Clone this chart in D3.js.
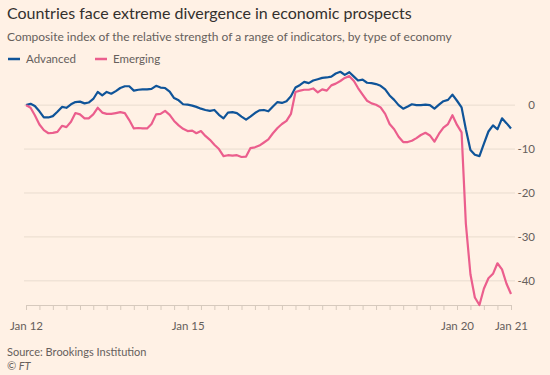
<!DOCTYPE html>
<html>
<head>
<meta charset="utf-8">
<script src="https://cdn.jsdelivr.net/npm/d3@7"></script>
<style>
  html, body { margin: 0; padding: 0; background: #fff1e5; }
  svg { display: block; font-family: Lato, "Noto Sans", sans-serif; }
</style>
</head>
<body>
<div id="chart"></div>
<script>
// monthly readings, Jan 2012 .. Jan 2021
const startMonth = new Date(2012, 0, 1);

const advanced = [
    0, 0.3, -0.2, -1.4, -2.8, -2.8, -2.5, -1.5, -0.4, -0.6, 0.2, 0.7,
    0.8, 0.4, 0.6, 1.4, 3.0, 2.2, 3.0, 2.6, 3.2, 3.9, 4.3, 4.3,
    3.3, 3.5, 3.6, 3.6, 3.7, 4.4, 4.0, 3.9, 3.1, 1.6, 1.1, 0.2,
    0.1, -0.1, -0.4, -0.8, -1.1, -1.3, -1.1, -2.2, -3.0, -1.7, -1.6, -1.8,
    -2.6, -3.3, -2.6, -1.8, -1.2, -1.1, -1.4, -0.3, 0.7, 0.5, 0.9, 2.0,
    4.0, 4.6, 5.3, 5.0, 5.6, 5.9, 6.2, 6.3, 6.5, 7.2, 7.6, 6.9,
    7.5, 6.5, 5.6, 5.8, 5.1, 5.0, 4.8, 4.4, 3.6, 2.2, 1.2, 0.0,
    -0.8, -0.3, 0.2, 0.0, 0.0, 0.1, 0.0, -0.8, 0.1, 0.9, 1.2, 2.4,
    1.0, -0.5, -5.5, -10.2, -11.3, -11.6, -8.8, -6.0, -4.6, -5.5, -3.0, -4.1,
    -5.3
];

const emerging = [
    0, -0.6, -2.3, -4.4, -5.7, -6.4, -6.3, -6.1, -4.7, -5.0, -3.8, -1.8,
    -2.1, -3.0, -3.0, -2.1, -0.6, -1.7, -2.0, -2.0, -1.8, -1.6, -1.8, -3.4,
    -5.3, -5.2, -5.3, -5.3, -4.3, -2.1, -2.0, -1.3, -2.2, -3.6, -4.6, -5.4,
    -5.9, -5.8, -6.4, -5.9, -7.0, -7.9, -9.0, -10.0, -11.6, -11.4, -11.5, -11.4,
    -11.8, -11.7, -9.8, -9.6, -9.2, -8.5, -7.8, -6.4, -5.2, -4.3, -3.6, -2.0,
    3.0, 3.3, 3.5, 3.5, 3.8, 2.9, 3.6, 3.3, 4.5, 4.9, 5.5, 6.2,
    6.6, 5.5, 3.9, 2.4, 1.0, 0.4, 0.1, -0.5, -2.0, -4.3, -5.5, -7.2,
    -8.4, -8.4, -8.1, -7.5, -6.8, -6.3, -6.9, -8.3, -6.5, -5.1, -4.3, -2.3,
    -4.5, -6.2, -27.0, -38.5, -43.8, -45.5, -41.8, -39.4, -38.4, -36.0, -37.4, -40.6,
    -43.0
];

const yTicks = [0, -10, -20, -30, -40];
const xLabelYears = [2012, 2015, 2020, 2021];

const seriesNames = ["Advanced", "Emerging"];
const seriesColors = ["#0f5499", "#eb5e8d"];

const width = 550, height = 375;

const svg = d3.select('#chart')
    .append('svg')
    .attr('width', width)
    .attr('height', height);

svg.append('rect')
    .attr('width', width)
    .attr('height', height)
    .attr('fill', '#fff1e5');

// titles
svg.append('text')
    .attr('x', 7)
    .attr('y', 19)
    .attr('font-size', '16px')
    .attr('fill', '#33302e')
    .text('Countries face extreme divergence in economic prospects');

svg.append('text')
    .attr('x', 7)
    .attr('y', 41)
    .attr('font-size', '12px')
    .attr('fill', '#66605c')
    .text('Composite index of the relative strength of a range of indicators, by type of economy');

// legend
const legendX = [8, 95];
seriesNames.forEach((name, i) => {
    svg.append('line')
        .attr('x1', legendX[i])
        .attr('x2', legendX[i] + 12)
        .attr('y1', 59)
        .attr('y2', 59)
        .attr('stroke', seriesColors[i])
        .attr('stroke-width', 2.5);
    svg.append('text')
        .attr('x', legendX[i] + 18)
        .attr('y', 63)
        .attr('font-size', '11.5px')
        .attr('fill', '#66605c')
        .text(name);
});

//Creating scales
const months = advanced.map((d, i) => d3.timeMonth.offset(startMonth, i));

const xScale = d3.scaleTime()
    .domain([new Date(2012, 0, 1), new Date(2021, 0, 1)])
    .range([26, 511]);

const yScale = d3.scaleLinear()
    .domain([-45.5, 8])
    .range([305, 70]);

// gridlines + y labels
const grid = svg.append('g').attr('id', 'grid');
grid.selectAll('line')
    .data(yTicks)
    .join('line')
    .attr('x1', 24)
    .attr('x2', 515)
    .attr('y1', d => yScale(d))
    .attr('y2', d => yScale(d))
    .attr('stroke', '#e9dccf')
    .attr('stroke-width', 1);

grid.selectAll('text')
    .data(yTicks)
    .join('text')
    .attr('x', 535)
    .attr('y', d => yScale(d) + 4)
    .attr('text-anchor', 'end')
    .attr('font-size', '11.5px')
    .attr('fill', '#66605c')
    .text(d => d);

// x axis, quarterly ticks
const xAxis = d3.axisBottom(xScale)
    .tickValues(d3.timeMonth.every(3).range(new Date(2012, 0, 1), new Date(2021, 0, 2)))
    .tickSize(5)
    .tickFormat(d => (d.getMonth() === 0 && xLabelYears.includes(d.getFullYear()))
        ? 'Jan ' + d3.timeFormat('%y')(d) : '');

const xg = svg.append('g')
    .attr('transform', `translate(0, ${yScale(-45.5)})`)
    .call(xAxis);

xg.select('.domain').attr('stroke', '#d6c9bd');
xg.selectAll('.tick line').attr('stroke', '#d6c9bd');
xg.selectAll('.tick text')
    .attr('font-family', 'Lato, "Noto Sans", sans-serif')
    .attr('font-size', '11.5px')
    .attr('fill', '#66605c')
    .attr('dy', '1.45em');

// lines
const line = d3.line()
    .x((d, i) => xScale(months[i]))
    .y(d => yScale(d));

[advanced, emerging].forEach((s, i) => {
    svg.append('path')
        .datum(s)
        .attr('d', line)
        .attr('fill', 'none')
        .attr('stroke', seriesColors[i])
        .attr('stroke-width', 2.2)
        .attr('stroke-linejoin', 'round');
});

// source
svg.append('text')
    .attr('x', 7)
    .attr('y', 356)
    .attr('font-size', '11px')
    .attr('fill', '#66605c')
    .text('Source: Brookings Institution');

svg.append('text')
    .attr('x', 7)
    .attr('y', 370)
    .attr('font-size', '11px')
    .attr('font-style', 'italic')
    .attr('fill', '#66605c')
    .text('© FT');
</script>
</body>
</html>
